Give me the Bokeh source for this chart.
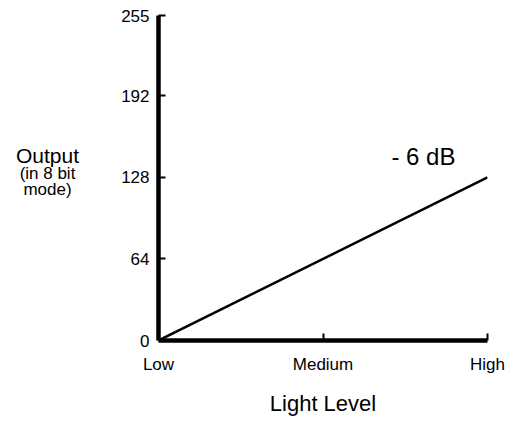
from bokeh.plotting import figure
from bokeh.layouts import row
from bokeh.models import Range1d, FixedTicker
from bokeh.core.properties import value
from bokeh.embed import file_html
from bokeh.resources import INLINE

# ---- data ----
light_levels = ["Low", "Medium", "High"]
light_pos = [0, 1, 2]
output_ticks = [0, 64, 128, 192, 255]
line_light = [0, 2]
line_output = [0, 128]
annotation_text = "- 6 dB"
ylabel_lines = ["Output", "(in 8 bit", "mode)"]

FONT = "Liberation Sans"
H = 418
TOP, BOTTOM = 15, 76

# ---- left panel holding the y-axis title ----
LW = 110
pl = figure(width=LW, height=H, output_backend="svg", toolbar_location=None,
            x_range=Range1d(0, LW), y_range=Range1d(0, 255),
            min_border_left=0, min_border_right=0, min_border_top=TOP, min_border_bottom=BOTTOM)
pl.axis.visible = False
pl.grid.visible = False
pl.outline_line_color = None
pl.text(x=[47], y=[145], text=[ylabel_lines[0]], text_font=value(FONT), text_font_size="21px",
        text_align="center", text_baseline="alphabetic", text_color="black")
pl.text(x=[47, 47], y=[131, 118.5], text=ylabel_lines[1:], text_font=value(FONT),
        text_font_size="17px", text_align="center", text_baseline="alphabetic", text_color="black")

# ---- main chart ----
p = figure(width=398, height=H, output_backend="svg", toolbar_location=None,
           x_range=Range1d(0, 2), y_range=Range1d(0, 255),
           min_border_left=48, min_border_right=21, min_border_top=TOP, min_border_bottom=BOTTOM)
p.outline_line_color = None
p.grid.visible = False

p.line(line_light, line_output, line_width=2.5, line_color="black")

for ax in (p.xaxis[0], p.yaxis[0]):
    ax.axis_line_width = 4.5
    ax.axis_line_color = "black"
    ax.major_tick_line_width = 2
    ax.major_tick_line_color = "black"
    ax.major_tick_in = 7
    ax.major_tick_out = 0
    ax.minor_tick_line_color = None
    ax.major_label_text_font = FONT
    ax.major_label_text_font_size = "17px"
    ax.major_label_text_color = "black"

p.xaxis.ticker = FixedTicker(ticks=light_pos)
p.xaxis.major_label_overrides = {pos: lab for pos, lab in zip(light_pos, light_levels)}
p.xaxis.major_label_standoff = 14
p.xaxis.axis_label = "Light Level"
p.xaxis.axis_label_text_font = FONT
p.xaxis.axis_label_text_font_size = "22px"
p.xaxis.axis_label_text_font_style = "normal"
p.xaxis.axis_label_text_color = "black"
p.xaxis.axis_label_standoff = 14

p.yaxis.ticker = FixedTicker(ticks=output_ticks)
p.yaxis.major_label_standoff = 9

p.text(x=[1.416], y=[144.3], text=[annotation_text], text_font=value(FONT), text_font_size="24px",
       text_align="left", text_baseline="alphabetic", text_color="black")

layout = row(pl, p, spacing=0)
open("out.html", "w").write(file_html(layout, INLINE))
